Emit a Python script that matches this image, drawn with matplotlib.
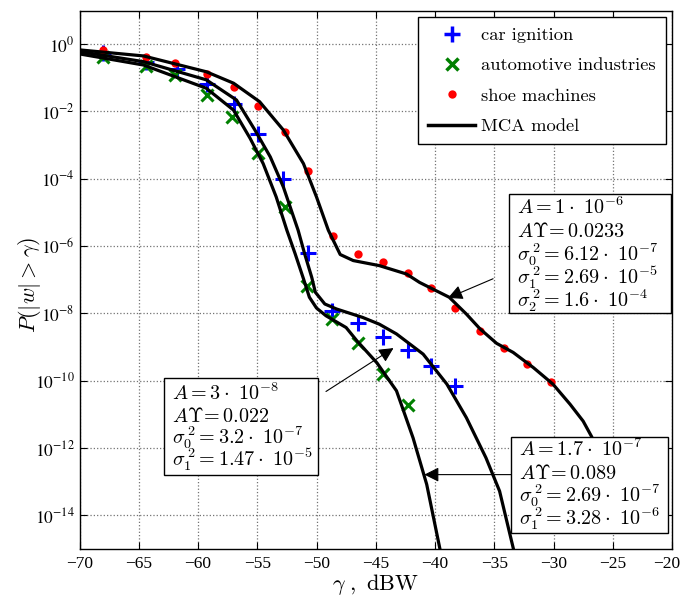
import numpy as np
import matplotlib
matplotlib.use("Agg")
import matplotlib.pyplot as plt
from matplotlib.lines import Line2D
from matplotlib.patches import Rectangle
from matplotlib.transforms import ScaledTranslation

plt.rcParams['font.family'] = ['Liberation Serif', 'DejaVu Serif']
plt.rcParams['mathtext.fontset'] = 'stix'

# measured points, stored as log10 of the probability
car_x = [-68.0, -64.4, -61.8, -59.2, -57.0, -54.9, -52.8, -50.7, -48.7, -46.5, -44.4, -42.3, -40.3, -38.3]
car_log = [-0.25, -0.54, -0.74, -1.19, -1.79, -2.68, -4.02, -6.2, -7.94, -8.28, -8.7, -9.1, -9.57, -10.17]

auto_x = [-68.0, -64.4, -61.9, -59.2, -57.1, -54.9, -52.7, -50.8, -48.7, -46.5, -44.4, -42.3]
auto_log = [-0.37, -0.65, -0.92, -1.52, -2.15, -3.24, -4.83, -7.18, -8.17, -8.87, -9.79, -10.72]

shoe_x = [-68.0, -64.4, -61.9, -59.2, -57.0, -54.9, -52.7, -50.7, -48.6, -46.5, -44.4, -42.3,
          -40.3, -38.3, -36.2, -34.2, -32.2, -30.2]
shoe_log = [-0.17, -0.37, -0.56, -0.88, -1.26, -1.83, -2.62, -3.77, -5.71, -6.23, -6.48, -6.8,
            -7.24, -7.84, -8.52, -9.03, -9.51, -10.03]

# MCA model curves
mca_car_x = [-70.0, -64.6, -59.3, -56.75, -55.2, -53.9, -52.8, -51.55, -51.0, -50.4, -50.1, -49.3,
             -48.3, -46.1, -44.7, -43.25, -41.0, -39.0, -37.35, -35.7, -34.55, -33.4]
mca_car_log = [-0.22, -0.52, -1.06, -1.66, -2.55, -3.35, -4.24, -5.53, -6.23, -6.93, -7.37, -7.72,
               -7.87, -8.12, -8.32, -8.61, -9.21, -10.10, -11.10, -12.29, -13.28, -14.97]

mca_auto_x = [-70.0, -64.6, -59.3, -57.0, -55.6, -54.5, -53.4, -52.5, -51.8, -51.1, -50.6, -50.0,
              -49.2, -47.5, -46.6, -44.9, -43.25, -41.85, -40.7, -39.6]
mca_auto_log = [-0.29, -0.62, -1.31, -1.96, -2.80, -3.55, -4.54, -5.53, -6.23, -6.97, -7.52, -7.84,
                -8.07, -8.42, -8.81, -9.47, -10.30, -11.70, -13.08, -14.97]

mca_shoe_x = [-70.0, -64.6, -59.3, -57.0, -54.8, -52.8, -51.1, -50.0, -49.0, -48.0, -46.9, -44.7,
              -42.4, -41.3, -38.8, -37.35, -36.2, -34.8, -33.4, -31.7, -30.05, -28.6, -27.5, -26.8,
              -25.5, -24.5]
mca_shoe_log = [-0.17, -0.35, -0.82, -1.16, -1.71, -2.55, -3.55, -4.54, -5.53, -6.25, -6.43, -6.58,
                -6.83, -7.08, -7.52, -8.02, -8.46, -8.89, -9.16, -9.61, -10.10, -10.70, -11.20, -11.65,
                -12.6, -13.6]

x_ticks = [-70, -65, -60, -55, -50, -45, -40, -35, -30, -25, -20]
y_exps = [0, -2, -4, -6, -8, -10, -12, -14]

legend_labels = ['car ignition', 'automotive industries', 'shoe machines', 'MCA model']

box_shoe = [r'$A=1\cdot\ 10^{-6}$', r'$A\Upsilon\!=0.0233$', r'$\sigma_0^{\,2}=6.12\cdot\ 10^{-7}$',
            r'$\sigma_1^{\,2}=2.69\cdot\ 10^{-5}$', r'$\sigma_2^{\,2}=1.6\cdot\ 10^{-4}$']
box_auto = [r'$A=3\cdot\ 10^{-8}$', r'$A\Upsilon\!=0.022$', r'$\sigma_0^{\,2}=3.2\cdot\ 10^{-7}$',
            r'$\sigma_1^{\,2}=1.47\cdot\ 10^{-5}$']
box_car = [r'$A=1.7\cdot\ 10^{-7}$', r'$A\Upsilon\!=0.089$', r'$\sigma_0^{\,2}=2.69\cdot\ 10^{-7}$',
           r'$\sigma_1^{\,2}=3.28\cdot\ 10^{-6}$']

W, H = 683, 597
fig = plt.figure(figsize=(W / 100, H / 100), dpi=100)
ax = fig.add_axes([79.5 / W, 1 - 549 / H, 592.5 / W, 538.5 / H])

green = (0, 0.5, 0)
ax.plot(car_x, 10.0 ** np.array(car_log), '+', color='b', ms=12, mew=2.2, zorder=3)
ax.plot(auto_x, 10.0 ** np.array(auto_log), 'x', color=green, ms=8.5, mew=2.2, zorder=3)
ax.plot(shoe_x, 10.0 ** np.array(shoe_log), 'o', color='r', ms=6, mew=0, zorder=3)

for xs, ls in [(mca_car_x, mca_car_log), (mca_auto_x, mca_auto_log), (mca_shoe_x, mca_shoe_log)]:
    ax.plot(xs, 10.0 ** np.array(ls), '-', color='k', lw=2.3, zorder=4)

ax.set_yscale('log')
ax.set_xlim(-70, -20)
ax.set_ylim(1e-15, 1e1)
ax.set_xticks(x_ticks)
ax.set_xticklabels([f'\u2212{abs(t)}' for t in x_ticks])
ax.set_yticks([10.0 ** e for e in y_exps])
ax.set_yticklabels([f'$10^{{{e}}}$' for e in y_exps])
ax.yaxis.set_minor_locator(matplotlib.ticker.NullLocator())
ax.tick_params(direction='in', length=5, width=0.8, top=True, right=True, labelsize=12.5)
ax.tick_params(axis='x', pad=5)
ax.grid(True, linestyle=':', color='0.45', lw=0.9)
for s in ax.spines.values():
    s.set_linewidth(1.0)

# keep the last x tick label inside the figure
last = ax.get_xticklabels()[-1]
last.set_transform(last.get_transform() + ScaledTranslation(-4 / 72, 0, fig.dpi_scale_trans))

ax.set_xlabel(r'$\gamma\ ,\ \mathrm{dBW}$', fontsize=16, math_fontfamily='cm', va='top')
ax.xaxis.set_label_coords(0.5, -0.043)
ax.set_ylabel(r'$P(|w|>\gamma)$', fontsize=16, math_fontfamily='cm')
ax.yaxis.set_label_coords(-0.062, 0.49)

# legend
handles = [
    Line2D([], [], ls='', marker='+', color='b', ms=12, mew=2.5),
    Line2D([], [], ls='', marker='x', color=green, ms=8.5, mew=2.5),
    Line2D([], [], ls='', marker='o', color='r', ms=6, mew=0),
    Line2D([], [], ls='-', color='k', lw=2.5),
]
leg = ax.legend(handles, legend_labels, loc='upper right', bbox_to_anchor=(666 / W, 1 - 17 / H),
                bbox_transform=fig.transFigure, prop={'family': 'cmr10', 'size': 13.3},
                fancybox=False, edgecolor='k', framealpha=1, borderaxespad=0,
                handlelength=2.55, labelspacing=0.78, borderpad=0.55, handletextpad=0.32)
leg.get_frame().set_linewidth(1.0)
leg.set_zorder(6)


def param_box(left, top, right, bottom, text_x, first_base, step, lines):
    fig.add_artist(Rectangle((left / W, 1 - bottom / H), (right - left) / W, (bottom - top) / H,
                             transform=fig.transFigure, fc='white', ec='k', lw=1.0, zorder=7))
    for i, line in enumerate(lines):
        fig.text(text_x / W, 1 - (first_base + i * step) / H, line, fontsize=14.5,
                 math_fontfamily='cm', ha='left', va='baseline', zorder=8)


param_box(509, 194, 671, 313, 517, 214, 23.3, box_shoe)
param_box(164, 378, 318, 475, 172, 400, 22.0, box_auto)
param_box(511, 437, 668, 533, 519, 456, 23.0, box_car)

arrow = dict(arrowstyle='-|>', color='k', lw=0.8, mutation_scale=22, shrinkA=0, shrinkB=0)
ax.annotate('', xy=(-38.9, 10 ** -7.54), xytext=(-35.1, 10 ** -6.97), arrowprops=arrow, zorder=5)
ax.annotate('', xy=(-43.5, 10 ** -9.03), xytext=(-49.2, 10 ** -10.32), arrowprops=arrow, zorder=5)
ax.annotate('', xy=(-40.9, 10 ** -12.79), xytext=(-33.6, 10 ** -12.79), arrowprops=arrow, zorder=5)

fig.savefig('out.png', dpi=100)
